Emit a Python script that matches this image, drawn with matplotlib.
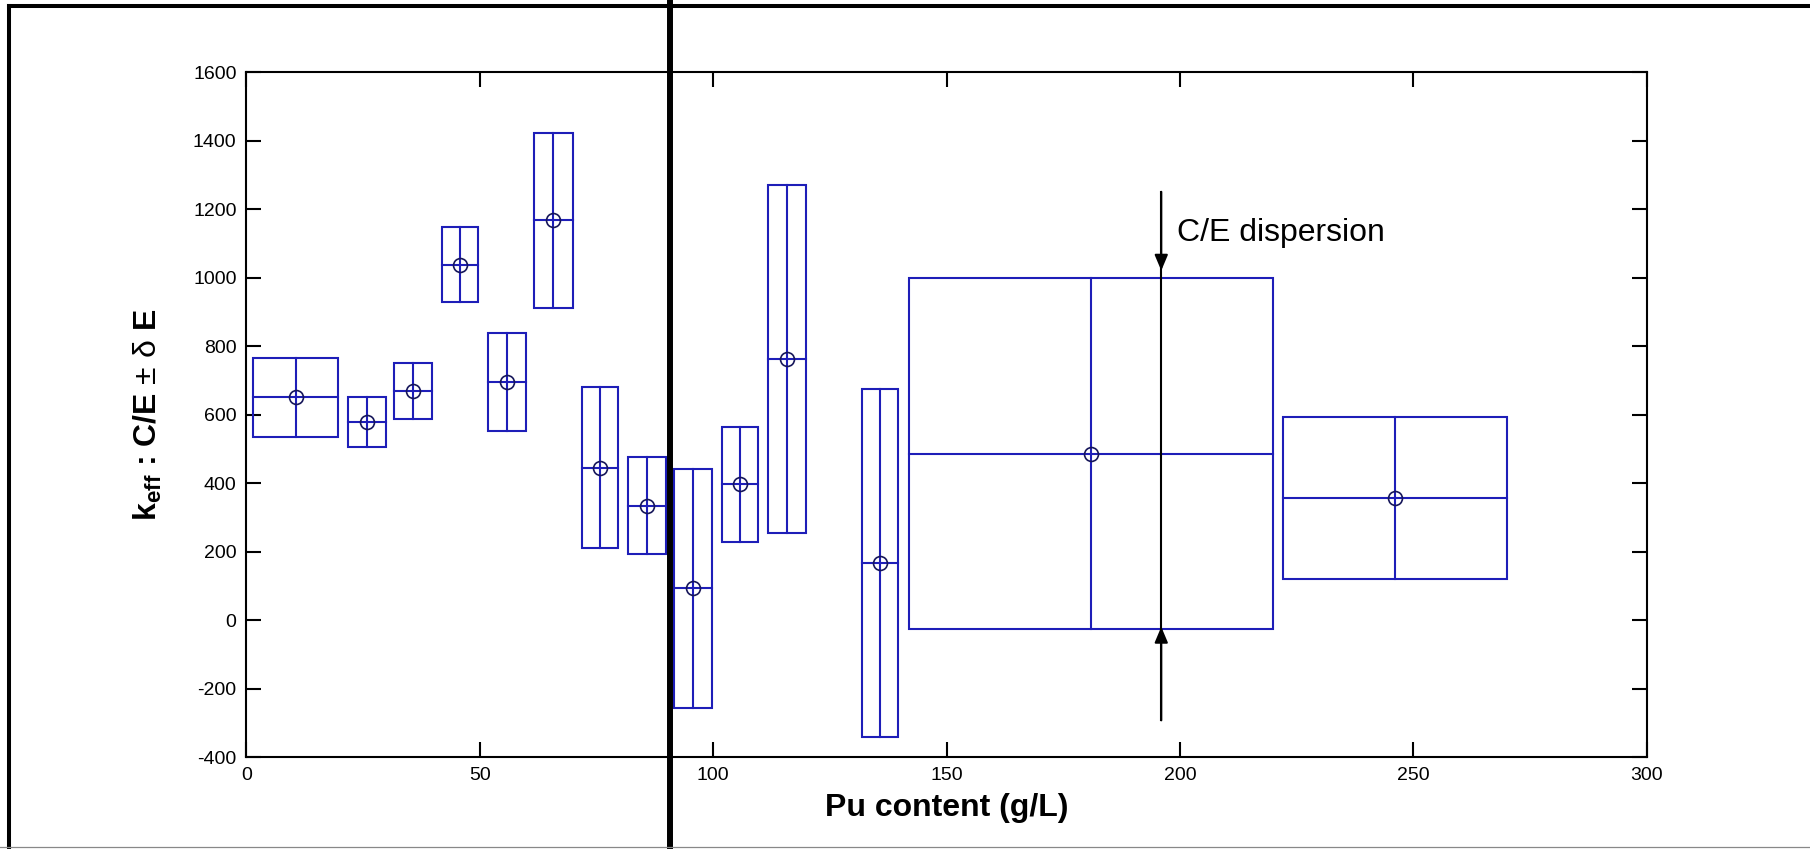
import matplotlib
matplotlib.use("Agg")
import matplotlib.pyplot as plt
from matplotlib.patches import Rectangle
from matplotlib.lines import Line2D

# ---- data ----
pu_content = [10.6, 25.8, 35.7, 45.8, 55.9, 65.75, 75.8, 85.8, 95.7, 105.8, 115.85, 135.8, 180.9, 246.0]
pu_halfwidth = [9.1, 4.1, 4.1, 3.9, 4.1, 4.15, 3.9, 4.1, 4.07, 3.9, 4.15, 3.9, 39.0, 24.0]
ce_value = [651, 578, 669, 1038, 697, 1168, 446, 335, 93, 397, 762, 167, 487, 357]
ce_halfheight = [116, 73, 82, 110, 143, 255, 234, 141, 348, 167, 508, 507, 512, 237]

x_ticks = [0, 50, 100, 150, 200, 250, 300]
y_ticks = [-400, -200, 0, 200, 400, 600, 800, 1000, 1200, 1400, 1600]

arrow_x = 196
arrow_top = [1251, 1021]      # from, tip
arrow_bottom = [-292, -19]    # from, tip
note_text = "C/E dispersion"
note_pos = (199.4, 1108)

xlabel = "Pu content (g/L)"
ylabel = r"k$_\mathbf{eff}$ : C/E $\mathrm{\pm}$ $\mathrm{\delta}$ E"

# ---- style ----
plt.rcParams['font.family'] = ['Liberation Sans', 'DejaVu Sans']
plt.rcParams['axes.unicode_minus'] = False
plt.rcParams['mathtext.fontset'] = 'custom'
plt.rcParams['mathtext.rm'] = 'Liberation Sans'
plt.rcParams['mathtext.bf'] = 'Liberation Sans:bold'
plt.rcParams['mathtext.it'] = 'Liberation Sans:italic'

box_color = '#1e1eb8'
mark_color = '#16165a'

fig = plt.figure(figsize=(18.10, 8.49), dpi=100)
ax = fig.add_axes([0.1361, 0.108, 0.7737, 0.8068])

for xc, dx, yc, dy in zip(pu_content, pu_halfwidth, ce_value, ce_halfheight):
    ax.add_patch(Rectangle((xc - dx, yc - dy), 2 * dx, 2 * dy, fill=False,
                           edgecolor=box_color, linewidth=1.5, zorder=2))
    ax.plot([xc - dx, xc + dx], [yc, yc], color=box_color, linewidth=1.5, zorder=2)
    ax.plot([xc, xc], [yc - dy, yc + dy], color=box_color, linewidth=1.5, zorder=2)

ax.plot(pu_content, ce_value, linestyle='none', marker='o', markersize=10,
        markerfacecolor='none', markeredgecolor=mark_color, markeredgewidth=1.2, zorder=3)

# dispersion arrows
ax.plot([arrow_x, arrow_x], [arrow_bottom[0], arrow_top[0]], color='black', linewidth=1.5, zorder=4)
for seg in (arrow_top, arrow_bottom):
    ax.annotate('', xy=(arrow_x, seg[1]), xytext=(arrow_x, seg[0]),
                arrowprops=dict(arrowstyle='-|>,head_length=0.95,head_width=0.4',
                                mutation_scale=10, color='black', linewidth=1.5,
                                shrinkA=0, shrinkB=0), zorder=5)
ax.text(note_pos[0], note_pos[1], note_text, fontsize=23, ha='left', va='baseline', color='black')

ax.set_xlim(0, 300)
ax.set_ylim(-400, 1600)
ax.set_xticks(x_ticks)
ax.set_yticks(y_ticks)
ax.tick_params(direction='in', length=10.8, width=1.5, top=True, right=True,
               labelsize=14, pad=7)
for s in ax.spines.values():
    s.set_linewidth(1.5)

ax.set_xlabel(xlabel, fontsize=23, fontweight='bold')
ax.xaxis.set_label_coords(0.5, -0.052)
ax.set_ylabel(ylabel, fontsize=23, fontweight='bold')
ax.yaxis.set_label_coords(-0.059, 0.5)

# frame lines of the screenshot
fig.add_artist(Line2D([0.005, 1.0], [0.9929, 0.9929], transform=fig.transFigure, color='black', linewidth=2.9))
fig.add_artist(Line2D([0.005, 0.005], [0.0, 0.9929], transform=fig.transFigure, color='black', linewidth=2.9))
fig.add_artist(Line2D([0.3699, 0.3699], [0.0, 1.0], transform=fig.transFigure, color='black', linewidth=4.3))
fig.add_artist(Line2D([0.0, 1.0], [0.0024, 0.0024], transform=fig.transFigure, color='#888888', linewidth=0.9))

fig.savefig('out.png', dpi=100)
